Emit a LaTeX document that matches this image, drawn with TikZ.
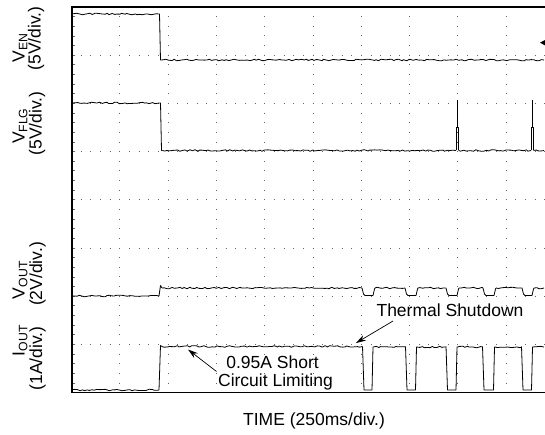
\documentclass[tikz,border=0pt]{standalone}
\usepackage{fontspec}
\setmainfont{Liberation Sans}
\usetikzlibrary{arrows.meta,decorations.pathmorphing}
\begin{document}
\begin{tikzpicture}[x=1pt,y=-1pt,
  frame/.style={line width=1.1pt},
  gridh/.style={black!60, line width=0.9pt, dash pattern=on 0.9pt off 8.76pt},
  gridv/.style={black!60, line width=0.9pt, dash pattern=on 0.9pt off 8.74pt},
  tick/.style={black!60, line width=0.8pt},
  trace/.style={line width=0.8pt, line join=round},
  noisy/.style={decorate, decoration={random steps, segment length=2.5pt, amplitude=0.8pt}},
  lbl/.style={font=\fontsize{17.5}{17.5}\selectfont, inner sep=0pt},
  ann/.style={-{Stealth[length=10pt,width=6pt]}, line width=0.7pt}]
\pgfmathsetseed{12}
\useasboundingbox (0,0) rectangle (545,435);
% grid
\foreach \k in {1,...,7} \draw[gridh] (71.05,{7+48.2*\k}) -- (545,{7+48.2*\k});
\foreach \k in {1,...,9} \draw[gridv] ({71.5+48.3*\k},6.55) -- ({71.5+48.3*\k},392.6);
\foreach \j in {1,...,39} \draw[tick] (72,{7+9.64*\j}) -- (74.5,{7+9.64*\j});
% frame
\draw[frame] (545,7) -- (72,7) -- (72,392.6) -- (545,392.6);
% V_EN
\draw[trace,noisy] (72,14) -- (158.5,14);
\draw[trace] (158.5,14) -- (159.5,14) -- (160.5,60) -- (161.5,60);
\draw[trace,noisy] (161.5,60) -- (544,60);
\fill (540,42.7) -- (545,40) -- (545,45.4) -- cycle;
% V_FLG
\draw[trace,noisy] (72,103) -- (159.5,103);
\draw[trace] (159.5,103) -- (160.5,103) -- (161.5,150.5) -- (162.5,150.5);
\draw[trace,noisy] (162.5,150.5) -- (456,150.5);
\draw[trace] (456,150.5) -- (456,127) -- (458.5,127) -- (458.5,150.5);
\draw[trace] (457.3,127) -- (457.3,100.5);
\draw[trace,noisy] (458.5,150.5) -- (531,150.5);
\draw[trace] (531,150.5) -- (531,127) -- (533.5,127) -- (533.5,150.5);
\draw[trace] (532.3,127) -- (532.3,100.5);
\draw[trace,noisy] (533.5,150.5) -- (544,150.5);
% V_OUT
\draw[trace,noisy] (72,296) -- (159,296);
\draw[trace] (159,296) -- (160.5,285.5) -- (162,288);
\draw[trace,noisy] (162,288) -- (362,288);
\foreach \a/\b/\n in {362/375/405, 405/418/446, 446/459/483, 483/496/522, 522/534/544} {
  \draw[trace] (\a,288) -- (\a+1.5,294) -- (\a+3,295.5) -- (\b-2,295.5) -- (\b-0.5,289) -- (\b,288);
  \draw[trace,noisy] (\b,288) -- (\n,288);
}
% I_OUT
\draw[trace,noisy] (72,390) -- (159,390);
\draw[trace] (159,390) -- (160.5,345.5) -- (162,346.5);
\draw[trace,noisy] (162,346.5) -- (362.5,346.5);
\foreach \a/\b/\n in {362.5/373.5/405.5, 405.5/417/446, 446/457.5/482.5, 482.5/495/521.5, 521.5/533/544} {
  \draw[trace] (\a,346.5) -- (\a+1.5,390) -- (\b-1.5,390) -- (\b-0.5,347) -- (\b,347);
  \draw[trace,noisy] (\b,347) -- (\n,347);
}
% axis labels
\node[lbl, rotate=90] (venA) at (20,48) {V\textsubscript{EN}};
\node[lbl, rotate=90] (venB) at (36,38.5) {(5V/div.)};
\node[lbl, rotate=90] (vflgA) at (20,126) {V\textsubscript{FLG}};
\node[lbl, rotate=90] (vflgB) at (37,123.5) {(5V/div.)};
\node[lbl, rotate=90] (voutA) at (20,280) {V\textsubscript{OUT}};
\node[lbl, rotate=90] (voutB) at (37.5,274) {(2V/div.)};
\node[lbl, rotate=90] (ioutA) at (20,340.5) {I\textsubscript{OUT}};
\node[lbl, rotate=90] (ioutB) at (37.5,358.5) {(1A/div.)};
\node[lbl, anchor=base] (time) at (314,425.5) {TIME (250ms/div.)};
% annotations
\node[lbl, anchor=base] (ts) at (450,316) {Thermal Shutdown};
\node[lbl, anchor=base] (sc1) at (272.5,368.3) {0.95A Short};
\node[lbl, anchor=base] (sc2) at (275.5,386) {Circuit Limiting};
\coordinate (tsTail) at (393,321);
\coordinate (tsTip) at (356,343);
\coordinate (scTail) at (216.5,371.5);
\coordinate (scTip) at (188,349.5);
\draw[ann] (tsTail) -- (tsTip);
\draw[ann] (scTail) -- (scTip);
\end{tikzpicture}
\end{document}
